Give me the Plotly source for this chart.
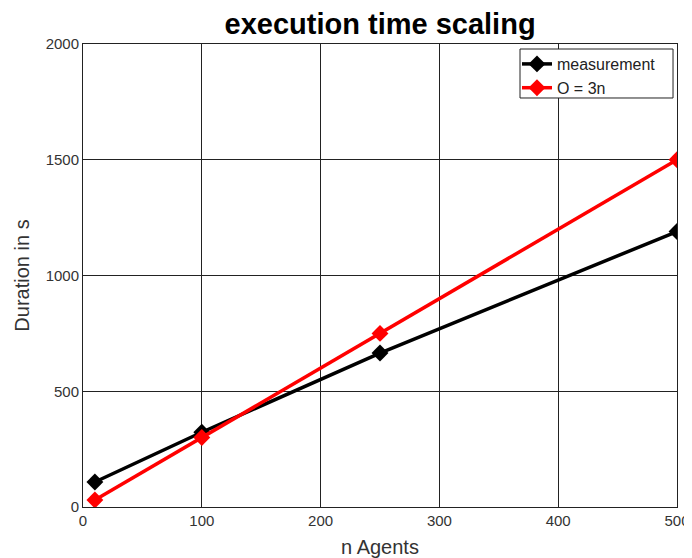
import plotly.graph_objects as go

n_agents = [10, 100, 250, 500]
measurement = [108, 323, 665, 1190]
o_3n = [30, 300, 750, 1500]

FONT = "Liberation Sans, Arial, Helvetica"

fig = go.Figure()
fig.add_trace(go.Scatter(x=n_agents, y=measurement, mode="lines+markers", name="measurement",
                         line=dict(color="black", width=3.5),
                         marker=dict(symbol="diamond", size=13, color="black")))
fig.add_trace(go.Scatter(x=n_agents, y=o_3n, mode="lines+markers", name="O = 3n",
                         line=dict(color="red", width=3.5),
                         marker=dict(symbol="diamond", size=13, color="red")))

axis_common = dict(showgrid=True, gridcolor="#222", gridwidth=1, showline=True, linecolor="#222",
                   linewidth=1, mirror=True, zeroline=False, ticks="", automargin=False,
                   tickfont=dict(family=FONT, size=15, color="#333"))
fig.update_xaxes(range=[0, 500], tickvals=[0, 100, 200, 300, 400, 500],
                 title=dict(text="n Agents", font=dict(family=FONT, size=20, color="#333"), standoff=14),
                 **axis_common)
fig.update_yaxes(range=[0, 2000], tickvals=[0, 500, 1000, 1500, 2000],
                 title=dict(text="Duration in s", font=dict(family=FONT, size=20, color="#333"), standoff=10),
                 **axis_common)

# legend frame
fig.add_shape(type="rect", xref="paper", yref="paper", x0=0.7357, x1=0.9933, y0=0.8834, y1=0.9892,
              line=dict(color="#222", width=1), fillcolor="white", layer="above")

fig.update_layout(
    width=684, height=550,
    margin=dict(l=75, r=15, t=36, b=51),
    paper_bgcolor="white", plot_bgcolor="white",
    title=dict(text="<b>execution time scaling</b>", x=0.544, xanchor="center", y=0.972, yanchor="middle",
               font=dict(family=FONT, size=29, color="black")),
    legend=dict(x=0.7306, xanchor="left", y=0.9935, yanchor="top", borderwidth=0,
                bgcolor="rgba(0,0,0,0)", font=dict(family=FONT, size=16, color="#222"),
                tracegroupgap=0, itemwidth=30),
    showlegend=True,
)
fig.write_html("out.html")
